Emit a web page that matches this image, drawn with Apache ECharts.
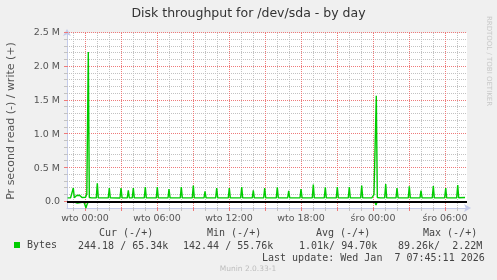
<!DOCTYPE html>
<html><head><meta charset="utf-8">
<script src="https://cdn.jsdelivr.net/npm/echarts@6/dist/echarts.min.js"></script>
<style>html,body{margin:0;padding:0;background:#f0f0f0}#c{width:497px;height:280px}</style>
</head><body><div id="c"></div>
<script>
const titleText = 'Disk throughput for /dev/sda - by day';
const yAxisName = 'Pr second read (-) / write (+)';
const seriesName = 'Bytes';
// x: hours since Tuesday (wto) 00:00
const xMin = -1.5, xMax = 31.833;
const xLabelHours = [0, 6, 12, 18, 24, 30];
const xLabelTexts = ['wto 00:00', 'wto 06:00', 'wto 12:00', 'wto 18:00', 'śro 00:00', 'śro 06:00'];
const xMajorHours = [0, 3, 6, 9, 12, 15, 18, 21, 24, 27, 30];
const xMinorHours = [-1, 1, 2, 4, 5, 7, 8, 10, 11, 13, 14, 16, 17, 19, 20, 22, 23, 25, 26, 28, 29, 31];
// y: kB per second
const yMin = -89.26, yMax = 2500;
const yLabelValues = [0, 500, 1000, 1500, 2000, 2500];
const yLabelTexts = ['0.0', '0.5 M', '1.0 M', '1.5 M', '2.0 M', '2.5 M'];
const yMajorValues = [0, 500, 1000, 1500, 2000, 2500];
const yMinorValues = [100, 200, 300, 400, 600, 700, 800, 900, 1100, 1200, 1300, 1400, 1600, 1700, 1800, 1900, 2100, 2200, 2300, 2400];

// write (+), kB/s
const writeHours = [-1.45, -1.20, -1.07, -0.975, -0.89, -0.80, -0.70, -0.62, -0.55, -0.45, -0.35, -0.25, -0.12, 0.05, 0.15, 0.275, 0.36, 0.55,
  0.94, 1.025, 1.11, 1.94, 2.025, 2.11, 2.92, 3.0, 3.09, 3.52, 3.61, 3.69, 3.94, 4.025, 4.11, 4.94, 5.025, 5.11,
  5.94, 6.025, 6.11, 6.92, 7.0, 7.09, 7.94, 8.025, 8.11, 8.94, 9.025, 9.11, 9.92, 10.0, 10.09, 10.89, 10.975, 11.06,
  11.94, 12.025, 12.11, 12.97, 13.06, 13.14, 13.94, 14.025, 14.11, 14.89, 14.975, 15.06, 15.94, 16.025, 16.11,
  16.89, 16.975, 17.06, 17.92, 18.0, 18.09, 18.94, 19.025, 19.11, 19.94, 20.025, 20.11, 20.94, 21.025, 21.11,
  21.94, 22.025, 22.11, 22.47, 22.56, 22.65, 22.97, 23.06, 23.14, 23.9, 24.0, 24.08, 24.17, 24.275, 24.36, 24.6,
  24.97, 25.06, 25.14, 25.92, 26.0, 26.09, 26.94, 27.025, 27.11, 27.92, 28.0, 28.09, 28.94, 29.025, 29.11,
  29.97, 30.06, 30.14, 30.97, 31.06, 31.14, 31.67];
const writeK = [60, 62, 61, 207, 63, 72, 95, 84, 90, 100, 86, 66, 60, 70, 118, 2220, 66, 60,
  61, 277, 61, 60, 207, 60, 59, 207, 60, 61, 173, 60, 60, 207, 61, 60, 222, 60,
  61, 222, 60, 60, 192, 61, 60, 222, 60, 61, 241, 60, 60, 158, 61, 60, 207, 60,
  61, 207, 60, 60, 222, 61, 60, 173, 60, 61, 207, 60, 60, 217, 61,
  60, 163, 60, 61, 192, 60, 60, 256, 61, 60, 217, 60, 61, 222, 60,
  60, 222, 61, 60, 89, 61, 60, 241, 61, 60, 80, 108, 90, 1570, 66, 60,
  60, 266, 61, 60, 207, 61, 60, 232, 60, 61, 167, 60, 60, 237, 61,
  60, 207, 60, 61, 251, 62, 65.34];
// read (-), kB/s (drawn negative)
const readHours = [-1.45, -0.88, -0.80, -0.72, -0.64, -0.55, -0.10, 0.0, 0.08, 0.17, 0.27, 3.52, 3.60, 3.68, 24.15, 24.25, 24.34, 31.67];
const readK = [0.3, 0.4, 22, 6, 18, 0.5, 0.6, 45, 89.26, 35, 0.8, 0.4, 19, 0.4, 0.6, 44, 0.5, 0.24];

const legendHeaders = ['Cur (-/+)', 'Min (-/+)', 'Avg (-/+)', 'Max (-/+)'];
const legendValues = ['244.18 / 65.34k', '142.44 / 55.76k', '1.01k/ 94.70k', '89.26k/  2.22M'];
const lastUpdate = 'Last update: Wed Jan  7 07:45:11 2026';
const footer = 'Munin 2.0.33-1';
const watermark = 'RRDTOOL / TOBI OETIKER';

const GREEN = '#00cc00';
const AXIS = '#c4cbea';
const MINOR = '#c2c2c2';
const MAJOR = '#ee7a7a';
const SANS = '"DejaVu Sans", sans-serif';
const MONO = '"DejaVu Sans Mono", monospace';

const writeData = writeHours.map((h, i) => [h, writeK[i]]);
const readData = readHours.map((h, i) => [h, -readK[i]]);

// grid lines and ticks, placed through the axes' own scales (api.coord)
function renderGrid(params, api) {
  const children = [];
  const yTop = api.coord([xMin, yMax])[1];
  const yBot = api.coord([xMin, yMin])[1];
  const xLeft = api.coord([xMin, 0])[0];
  const xRight = api.coord([xMax, 0])[0];
  const crisp = v => Math.round(v) + 0.5;
  const vline = (h, color) => {
    const x = crisp(api.coord([h, 0])[0]);
    children.push({type: 'line', shape: {x1: x, y1: yTop, x2: x, y2: yBot}, style: {stroke: color, lineWidth: 1, lineDash: [1, 1]}});
    children.push({type: 'line', shape: {x1: x, y1: yBot, x2: x, y2: yBot + 3}, style: {stroke: color, lineWidth: 1}});
  };
  const hline = (v, color) => {
    const y = crisp(api.coord([xMin, v])[1]) - 1;
    children.push({type: 'line', shape: {x1: xLeft, y1: y, x2: xRight, y2: y}, style: {stroke: color, lineWidth: 1, lineDash: [1, 1]}});
    children.push({type: 'line', shape: {x1: xLeft - 3, y1: y, x2: xLeft, y2: y}, style: {stroke: color, lineWidth: 1}});
  };
  xMinorHours.forEach(h => vline(h, MINOR));
  yMinorValues.forEach(v => hline(v, MINOR));
  xMajorHours.forEach(h => vline(h, MAJOR));
  yMajorValues.forEach(v => hline(v, MAJOR));
  return {type: 'group', children: children};
}

const chart = echarts.init(document.getElementById('c'), null, {renderer: 'canvas'});
const hdrX = [99, 207, 316, 423];
const valX = [78, 183, 299, 398];
const graphics = [
  {type: 'text', x: 11, y: 121, rotation: Math.PI / 2, style: {text: yAxisName, font: '11px ' + SANS, fill: '#555', align: 'center', verticalAlign: 'middle'}},
  {type: 'text', x: 489, y: 61, rotation: -Math.PI / 2, style: {text: watermark, font: '7px ' + SANS, fill: '#c8c8c8', align: 'center', verticalAlign: 'middle'}},
  {type: 'text', x: 262, y: 258, style: {text: lastUpdate, font: '10px ' + MONO, fill: '#444', align: 'left', verticalAlign: 'middle'}},
  {type: 'text', x: 248, y: 269.5, style: {text: footer, font: '7.5px ' + SANS, fill: '#bdbdbd', align: 'center', verticalAlign: 'middle'}}
];
legendHeaders.forEach((t, i) => graphics.push({type: 'text', x: hdrX[i], y: 233.5, style: {text: t, font: '10px ' + MONO, fill: '#444', align: 'left', verticalAlign: 'middle'}}));
legendValues.forEach((t, i) => graphics.push({type: 'text', x: valX[i], y: 246, style: {text: t, font: '10px ' + MONO, fill: '#444', align: 'left', verticalAlign: 'middle'}}));

chart.setOption({
  animation: false,
  backgroundColor: '#f0f0f0',
  title: {text: titleText, left: 'center', top: 6.5, padding: 0, textStyle: {fontFamily: SANS, fontSize: 12.5, fontWeight: 'normal', color: '#333', lineHeight: 15}},
  grid: {left: 67, top: 33, width: 400, height: 175, show: true, backgroundColor: '#ffffff', borderWidth: 0, containLabel: false},
  legend: {show: true, data: [seriesName], left: 14, top: 240, padding: 0, icon: 'rect', itemWidth: 6, itemHeight: 6, itemGap: 5,
    textStyle: {fontFamily: MONO, fontSize: 10, color: '#444', padding: [0, 0, 0, 2]}},
  xAxis: {
    type: 'value', min: xMin, max: xMax, position: 'bottom',
    axisLine: {show: true, onZero: false, lineStyle: {color: AXIS, width: 1}, symbol: ['none', 'arrow'], symbolSize: [6, 7], symbolOffset: [0, 4]},
    axisTick: {show: false}, splitLine: {show: false},
    axisLabel: {show: true, customValues: xLabelHours, margin: 6, fontFamily: SANS, fontSize: 9.5, color: '#555',
      formatter: v => xLabelTexts[xLabelHours.indexOf(Math.round(v))] || ''}
  },
  yAxis: {
    type: 'value', min: yMin, max: yMax, position: 'left',
    axisLine: {show: true, onZero: false, lineStyle: {color: AXIS, width: 1}, symbol: ['none', 'arrow'], symbolSize: [6, 7], symbolOffset: [0, 4]},
    axisTick: {show: false}, splitLine: {show: false},
    axisLabel: {show: true, customValues: yLabelValues, margin: 7, fontFamily: SANS, fontSize: 9.5, color: '#555',
      formatter: v => yLabelTexts[yLabelValues.indexOf(Math.round(v))] || ''}
  },
  series: [
    {name: 'grid', type: 'custom', renderItem: renderGrid, data: [[0, 0]], silent: true, clip: false, z: 1},
    {name: seriesName, type: 'line', data: readData, showSymbol: false, symbol: 'none',
      lineStyle: {color: GREEN, width: 1.4}, itemStyle: {color: GREEN}, z: 3,
      markLine: {silent: true, symbol: ['none', 'none'], label: {show: false}, lineStyle: {color: '#000', width: 2, type: 'solid'},
        data: [{yAxis: 0}], z: 5, animation: false}},
    {name: seriesName, type: 'line', data: writeData, showSymbol: false, symbol: 'none',
      lineStyle: {color: GREEN, width: 1.4}, itemStyle: {color: GREEN}, z: 4}
  ],
  graphic: graphics
});
</script></body></html>
